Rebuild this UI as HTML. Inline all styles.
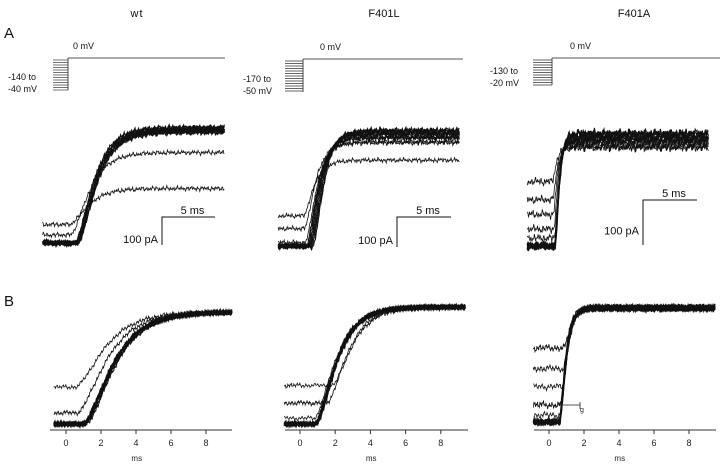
<!DOCTYPE html>
<html><head><meta charset="utf-8"><style>
html,body{margin:0;padding:0;background:#fff;}
svg{display:block;font-family:"Liberation Sans",Arial,sans-serif;}
</style></head><body>
<svg id="fig" width="720" height="464" viewBox="0 0 720 464">
<g font-size="11" fill="#111" text-anchor="middle">
<text x="137" y="17" letter-spacing="1">wt</text>
<text x="384" y="17">F401L</text>
<text x="634" y="17">F401A</text>
</g>
<text x="4" y="38" font-size="15" fill="#111">A</text>
<text x="4" y="306" font-size="15" fill="#111">B</text>
<g id="protocols" font-size="9" fill="#111"></g>
<g id="traces"></g>
<g id="axes" font-size="9" fill="#222"></g>
</svg>
<script>
// ---- data ----
const protoLabelsTop = ["-140  to", "-170  to", "-130  to"];
const protoLabelsBot = ["-40  mV", "-50  mV", "-20  mV"];
// A-row traces: pre-step levels (fraction of max), plateaus (fraction), delays (ms)
const aPre = [
  [0,0,0,0,0,0,0,0,0.07,0.16],
  [0,0,0,0,0,0,0,0.03,0.15,0.26],
  [0,0,0,0,0,0.07,0.15,0.28,0.41,0.57]
];
const aPlat = [
  [1,0.99,0.98,0.98,0.97,0.97,0.96,0.95,0.78,0.47],
  [1,0.99,0.98,0.97,0.96,0.94,0.93,0.9,0.89,0.74],
  [1,0.99,0.97,0.96,0.94,0.93,0.92,0.9,0.88,0.87]
];
const aDelay = [
  [0.6,0.65,0.7,0.75,0.8,0.85,0.9,0.9,0.2,0.1],
  [0.9,0.8,0.7,0.6,0.5,0.4,0.3,0.2,0.1,0.0],
  [0.3,0.28,0.26,0.24,0.22,0.2,0.15,0.1,0.05,0.0]
];
const aTau = [1.4, 0.8, 0.3];
// B-row traces (normalized)
const bPre = [
  [0,0,0,0,0,0,0,0,0.1,0.33],
  [0,0,0,0,0,0,0,0.05,0.18,0.33],
  [0,0,0,0,0,0.06,0.15,0.31,0.47,0.65]
];
const bDelay = [
  [0.9,0.95,1.0,1.0,1.05,1.1,0.95,0.9,0.6,0.5],
  [0.8,0.85,0.9,0.85,0.8,0.9,0.85,0.8,1.5,1.8],
  [0.55,0.6,0.58,0.62,0.6,0.65,0.7,0.75,0.8,0.85]
];
const bTau = [1.35, 0.95, 0.28];
const xTicks = [0,2,4,6,8];
// ---- layout ----
const NS="http://www.w3.org/2000/svg";
function mk(tag,attrs,parent){const e=document.createElementNS(NS,tag);for(const k in attrs)e.setAttribute(k,attrs[k]);parent.appendChild(e);return e;}
const protoG=document.getElementById('protocols');
const trG=document.getElementById('traces');
const axG=document.getElementById('axes');
const protos=[
  {sx0:53,sx1:68,sy0:58,sy1:90,lineEnd:225,lx:8,ly:80,mvx:73},
  {sx0:285,sx1:303,sy0:59,sy1:92,lineEnd:463,lx:243,ly:82,mvx:320},
  {sx0:533,sx1:552,sy0:58,sy1:85,lineEnd:720,lx:490,ly:74,mvx:570}
];
protos.forEach((p,i)=>{
  const g=mk('g',{},protoG);
  
  
  for(let y=p.sy0+2;y<=p.sy1;y+=2.5){mk('line',{x1:p.sx0,x2:p.sx1,y1:y,y2:y,stroke:'#666','stroke-width':0.9},g);}
  mk('line',{x1:p.sx1,x2:p.sx1,y1:p.sy0,y2:p.sy1,stroke:'#444','stroke-width':1},g);
  mk('line',{x1:p.sx1,x2:p.lineEnd,y1:p.sy0,y2:p.sy0,stroke:'#555','stroke-width':1},g);
  const t1=mk('text',{x:p.lx,y:p.ly},g);t1.textContent=protoLabelsTop[i];
  const t2=mk('text',{x:p.lx,y:p.ly+12},g);t2.textContent=protoLabelsBot[i];
  const t3=mk('text',{x:p.mvx,y:p.sy0-9},g);t3.textContent="0  mV";
});
const aPanels=[
  {x0:68,ppm:10.6,yb:243,yt:127,t0:-2.4,t1:14.8,pow:2,sb:{x:162,y0:217,y1:245,x1:215}},
  {x0:303,ppm:10.8,yb:246,yt:130,t0:-2.3,t1:14.5,pow:2,sb:{x:397,y0:217,y1:247,x1:451}},
  {x0:552,ppm:10.8,yb:246,yt:133,t0:-2.3,t1:14.5,pow:2,sb:{x:643,y0:200,y1:245,x1:697}}
];
const bPanels=[
  {x0:66,ppm:17.5,yb:424,yt:312,t0:-0.7,t1:9.5,pow:2,ax0:50,ax1:232},
  {x0:300,ppm:17.6,yb:424,yt:307,t0:-0.9,t1:9.4,pow:2,ax0:285,ax1:468},
  {x0:549,ppm:17.5,yb:422,yt:308,t0:-0.9,t1:9.5,pow:2,ax0:534,ax1:716}
];
function noise(k,t,amp){return amp*(Math.sin(t*37.1+k*2.3)*0.5+Math.sin(t*91.7+k*5.1)*0.35+Math.sin(t*13.3+k)*0.3+Math.sin(t*5.3+k*1.7)*0.25);}
function drawTraces(P,pre,plat,delay,tau,nAmp,name){
  const g=mk('g',{},trG);
  
  
  const sx=t=>P.x0+t*P.ppm, sy=v=>P.yb-(P.yb-P.yt)*v;
  for(let k=0;k<pre.length;k++){
    let d='';
    const dt=0.6/P.ppm;
    for(let t=P.t0;t<=P.t1;t+=dt){
      const s=t-delay[k];
      const L=pre[k], T=plat?plat[k]:1;
      let v=L;
      if(s>0){v=L+(T-L)*Math.pow(1-Math.exp(-s/tau),P.pow);}
      v+=noise(k,t,nAmp);
      d+=(d?'L':'M')+sx(t).toFixed(1)+' '+sy(v).toFixed(1);
    }
    const p=mk('path',{d:d,fill:'none',stroke:'#111','stroke-width':(pre[k]>0||(plat&&plat[k]<0.9))?0.8:1.1},g);
    
    
  }
}
aPanels.forEach((P,i)=>{
  drawTraces(P,aPre[i],aPlat[i],aDelay[i],aTau[i],i==2?0.035:0.02,'traces-a-'+i);
  const g=mk('g',{},trG);
  
  
  const s=P.sb;
  mk('path',{d:`M${s.x} ${s.y1}V${s.y0}H${s.x1}`,fill:'none',stroke:'#111','stroke-width':1},g);
  const a=mk('text',{x:(s.x+s.x1)/2+4,y:s.y0-3,'font-size':11,'text-anchor':'middle',fill:'#111'},g);a.textContent='5 ms';
  const b=mk('text',{x:s.x-4,y:(s.y0+s.y1)/2+12,'font-size':11,'text-anchor':'end',fill:'#111'},g);b.textContent='100 pA';
});
bPanels.forEach((P,i)=>{
  drawTraces(P,bPre[i],null,bDelay[i],bTau[i],i==2?0.03:0.02,'traces-b-'+i);
  const g=mk('g',{},axG);
  
  
  const ay=430;
  mk('line',{x1:P.ax0,x2:P.ax1,y1:ay,y2:ay,stroke:'#333','stroke-width':1},g);
  xTicks.forEach(tv=>{
    const x=P.x0+tv*P.ppm;
    mk('line',{x1:x,x2:x,y1:ay,y2:ay+4,stroke:'#333','stroke-width':1},g);
    const t=mk('text',{x:x,y:ay+16,'text-anchor':'middle'},g);t.textContent=tv;
  });
  const ms=mk('text',{x:P.x0+4.5*P.ppm-8,y:461,'text-anchor':'middle','font-size':8},g);ms.textContent='ms';
});
// Ig annotation
const ig=mk('g',{},axG);


mk('path',{d:'M558 405H580V402M580 405V409',fill:'none',stroke:'#222','stroke-width':0.8},ig);
const igt=mk('text',{x:580,y:412,'font-size':7},ig);igt.textContent='g';
</script>
</body></html>
